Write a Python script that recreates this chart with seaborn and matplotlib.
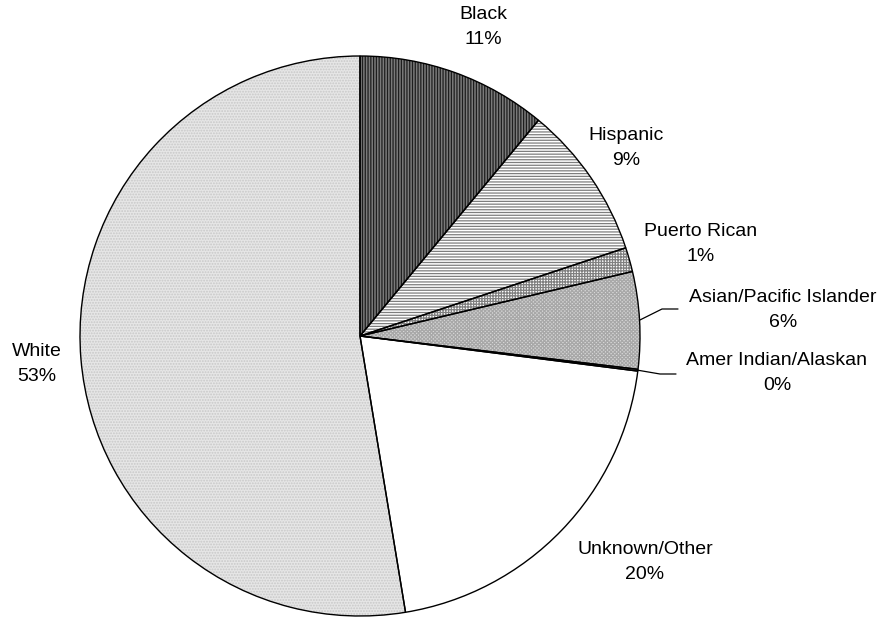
import matplotlib
matplotlib.use("Agg")
from matplotlib import pyplot as plt
import numpy as np
import seaborn as sns

# data
groups = ['Black', 'Hispanic', 'Puerto Rican', 'Asian/Pacific Islander',
          'Amer Indian/Alaskan', 'Unknown/Other', 'White']
shares = [11.0, 8.9, 1.4, 5.6, 0.1, 20.4, 52.6]

# styling per slice: face, hatch, hatch colour
faces = ['#7a7a7a', 'white', 'white', '#d8d8d8', '#d8d8d8', 'white', '#e6e6e6']
hatches = ['||||||', '------', '++++++', 'xxxxxxxxx', 'xxxxxxxxx', '', '......']
hatch_cols = ['#1e1e1e', '#7e7e7e', '#808080', '#a8a8a8', '#a8a8a8', 'white', '#c8c8c8']

# label centres in pixels (from top-left) for the two-line labels
label_pos = [(483, 27), (626, 148), (701, 244), (783, 310),
             (777, 373), (645, 562), (37, 364)]

sns.set_style("white")
plt.rcParams['font.family'] = ['Liberation Sans', 'DejaVu Sans']
plt.rcParams['hatch.linewidth'] = 0.9

W, H = 891, 617
cx, cy, R = 360, 336, 280
fig = plt.figure(figsize=(W / 100, H / 100), dpi=100)
ax = fig.add_axes([0, 0, 1, 1])
ax.axis('off')

# hatched fills (hatch colour comes from edgecolor)
wedges, _ = ax.pie(shares, startangle=90, counterclock=False, radius=1,
                   colors=faces, wedgeprops=dict(linewidth=0))
for w, h, hc in zip(wedges, hatches, hatch_cols):
    w.set_hatch(h)
    w.set_edgecolor(hc)

# black outlines on top
ax.pie(shares, startangle=90, counterclock=False, radius=1,
       wedgeprops=dict(fill=False, edgecolor='black', linewidth=1))
ax.set_xlim(-cx / R, (W - cx) / R)
ax.set_ylim(-(H - cy) / R, cy / R)
ax.set_aspect('auto')


def px(x, y):
    return (x - cx) / R, (cy - y) / R


for g, s, (lx, ly) in zip(groups, shares, label_pos):
    x, y = px(lx, ly)
    ax.text(x, y, f"{g}\n{s:.0f}%", ha='center', va='center', color='black',
            fontsize=14, linespacing=1.62, multialignment='center')

# leader lines for the two small slices
for i, (lx, ly) in [(3, (678, 309)), (4, (676, 374))]:
    w = wedges[i]
    mid = np.deg2rad((w.theta1 + w.theta2) / 2)
    x0, y0 = np.cos(mid), np.sin(mid)
    x1, y1 = px(lx - 16, ly)
    x2, y2 = px(lx, ly)
    ax.plot([x0, x1, x2], [y0, y1, y2], color='black', linewidth=0.9)

plt.savefig('out.png', dpi=100)
